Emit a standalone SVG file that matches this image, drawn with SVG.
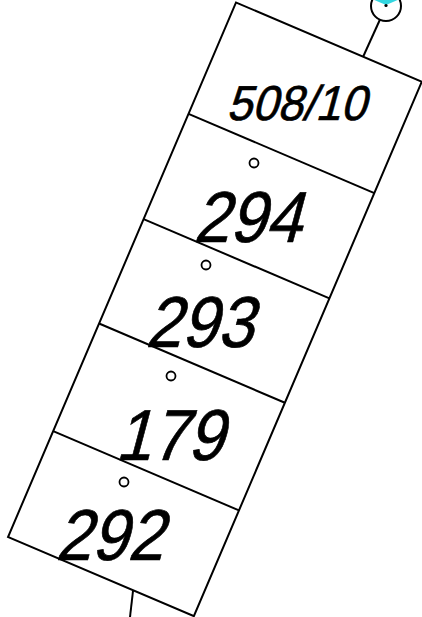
<svg xmlns="http://www.w3.org/2000/svg" width="422" height="617" viewBox="0 0 422 617">
<style>
.ln{stroke:#000;stroke-width:2;fill:none;stroke-linecap:butt}
.box{stroke:#000;stroke-width:2;fill:#fff}
.dot{stroke:#000;stroke-width:1.8;fill:#fff}
.lbl{font-family:"Liberation Sans",Arial,sans-serif;fill:#000;stroke:#000;stroke-width:0.7;text-anchor:middle}
.big{font-size:72px}
.sm{font-size:49px}
</style>
<rect width="422" height="617" fill="#fff"/>
<g id="connectors">
<line class="ln" x1="363" y1="57" x2="380" y2="19.5"/>
<line class="ln" x1="133" y1="591" x2="130" y2="617"/>
</g>
<g id="terminal">
<circle class="box" cx="386" cy="6" r="15"/>
<polygon points="372,-1 400,-1 386,5" fill="#33d6e0"/>
<circle cx="386" cy="5.5" r="1.6" fill="#000"/>
</g>
<g id="stack" transform="translate(236,2.5) rotate(23.1)">
<rect class="box" x="0" y="0" width="202" height="581"/>
<line class="ln" x1="0" y1="121" x2="202" y2="121"/>
<line class="ln" x1="0" y1="235.5" x2="202" y2="235.5"/>
<line class="ln" x1="0" y1="349" x2="202" y2="349"/>
<line class="ln" x1="0" y1="466" x2="202" y2="466"/>
</g>
<g id="n508-10"><text class="lbl sm" transform="translate(296,120) skewX(-15) scale(0.93,1)">508/10</text></g>
<g id="n294"><circle class="dot" cx="254" cy="163" r="4.5"/><text class="lbl big" transform="translate(247,242) skewX(-15) scale(0.9,1)">294</text></g>
<g id="n293"><circle class="dot" cx="206" cy="265" r="4.5"/><text class="lbl big" transform="translate(199,347) skewX(-15) scale(0.9,1)">293</text></g>
<g id="n179"><circle class="dot" cx="171" cy="376" r="4.5"/><text class="lbl big" transform="translate(169,460) skewX(-15) scale(0.9,1)">179</text></g>
<g id="n292"><circle class="dot" cx="124" cy="482" r="4.5"/><text class="lbl big" transform="translate(109,560) skewX(-15) scale(0.9,1)">292</text></g>
</svg>
